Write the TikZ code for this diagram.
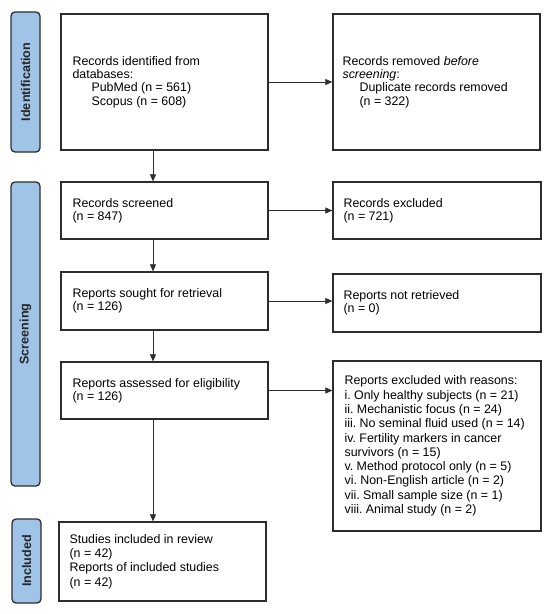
\documentclass[tikz,border=0pt]{standalone}
\usepackage{fontspec}
\setmainfont{Liberation Sans}
\frenchspacing
\usetikzlibrary{arrows.meta}
\definecolor{boxline}{RGB}{45,45,45}
\definecolor{labfill}{RGB}{160,196,232}
\begin{document}
\begin{tikzpicture}[x=1pt,y=-1pt,
  box/.style={draw=boxline,line width=1.3pt,fill=white,inner sep=0pt,anchor=center},
  txt/.style={align=left,anchor=west,inner sep=0pt,
    font=\fontsize{12.4}{13.4}\selectfont},
  txtl/.style={align=left,anchor=west,inner sep=0pt,
    font=\fontsize{12.4}{14.3}\selectfont},
  phase/.style={draw=boxline,line width=1.3pt,fill=labfill,rounded corners=4pt,
    rotate=90,minimum height=29pt,inner sep=0pt,
    font=\fontsize{12.6}{14}\selectfont\bfseries,text=black!85},
  arr/.style={draw=boxline,line width=0.7pt,-{Triangle[length=7pt,width=6pt]}}]
\useasboundingbox (0,0) rectangle (550,614);
% phase labels
\node[phase,minimum width=140pt] (lid) at (25.5,82) {Identification};
\node[phase,minimum width=304pt] (lsc) at (25.5,334) {Screening};
\node[phase,minimum width=84pt] (lin) at (26.5,561) {Included};
% boxes
\node[box,minimum width=207pt,minimum height=136pt] (ident) at (164.5,82) {};
\node[txt] (ident-t) at ([xshift=12pt]ident.west)
  {Records identified from\\databases:\\\hspace*{19pt}PubMed (n = 561)\\\hspace*{19pt}Scopus (n = 608)};
\node[box,minimum width=207pt,minimum height=136pt] (removed) at (436.5,82) {};
\node[txt] (removed-t) at ([xshift=10pt]removed.west)
  {Records removed \textit{before}\\\textit{screening}:\\\hspace*{17pt}Duplicate records removed\\\hspace*{17pt}(n = 322)};
\node[box,minimum width=207pt,minimum height=57pt] (screened) at (164.5,210.5) {};
\node[txt] (screened-t) at ([xshift=12pt]screened.west) {Records screened\\(n = 847)};
\node[box,minimum width=208pt,minimum height=57pt] (excluded) at (437,210.5) {};
\node[txt] (excluded-t) at ([xshift=11pt]excluded.west) {Records excluded\\(n = 721)};
\node[box,minimum width=207pt,minimum height=58pt] (sought) at (164.5,301) {};
\node[txt] (sought-t) at ([xshift=12pt]sought.west) {Reports sought for retrieval\\(n = 126)};
\node[box,minimum width=208pt,minimum height=58pt] (notret) at (437,303) {};
\node[txt] (notret-t) at ([xshift=11pt]notret.west) {Reports not retrieved\\(n = 0)};
\node[box,minimum width=207pt,minimum height=57pt] (assessed) at (164.5,390.5) {};
\node[txt] (assessed-t) at ([xshift=12pt]assessed.west) {Reports assessed for eligibility\\(n = 126)};
\node[box,minimum width=208pt,minimum height=170pt] (reasons) at (437,446) {};
\node[txtl] (reasons-t) at ([xshift=12pt]reasons.west)
  {Reports excluded with reasons:\\
   i. Only healthy subjects (n = 21)\\
   ii. Mechanistic focus (n = 24)\\
   iii. No seminal fluid used (n = 14)\\
   iv. Fertility markers in cancer\\
   survivors (n = 15)\\
   v. Method protocol only (n = 5)\\
   vi. Non-English article (n = 2)\\
   vii. Small sample size (n = 1)\\
   viii. Animal study (n = 2)};
\node[box,minimum width=207pt,minimum height=79pt] (included) at (162.5,561.5) {};
\node[txtl] (included-t) at ([xshift=11pt]included.west)
  {Studies included in review\\(n = 42)\\Reports of included studies\\(n = 42)};
% stem
\coordinate (stem) at (153,0);
\draw[arr] (ident.south -| stem) -- (screened.north -| stem);
\draw[arr] (screened.south -| stem) -- (sought.north -| stem);
\draw[arr] (sought.south -| stem) -- (assessed.north -| stem);
\draw[arr] (assessed.south -| stem) -- (included.north -| stem);
\draw[arr] (ident.east) -- (ident.east -| removed.west);
\draw[arr] (screened.east) -- (screened.east -| excluded.west);
\draw[arr] (sought.east) -- (sought.east -| notret.west);
\draw[arr] (assessed.east) -- (assessed.east -| reasons.west);
\end{tikzpicture}
\end{document}
